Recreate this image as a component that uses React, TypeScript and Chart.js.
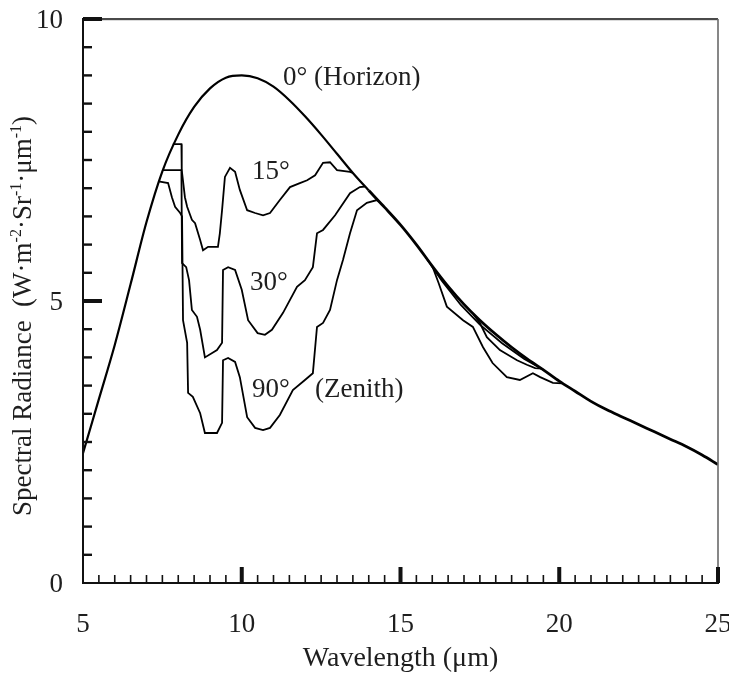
import React, { useEffect, useRef } from "react";
import { Chart, registerables } from "chart.js";

Chart.register(...registerables);

// ---- data (wavelength in µm, spectral radiance) ----
const horizonWl = [5.0, 5.5, 6.0, 6.5, 7.0, 7.5, 8.0, 8.5, 9.0, 9.5, 10.0, 10.5, 11.0, 11.5, 12.0, 12.5, 13.0, 13.5, 14.0, 14.5, 15.0, 15.5, 16.0, 16.5, 17.0, 17.5, 18.0, 18.5, 19.0, 19.5, 20.0, 20.5, 21.0, 21.5, 22.0, 22.5, 23.0, 23.5, 24.0, 24.5, 25.0];
const horizonRad = [2.3, 3.26, 4.22, 5.3, 6.4, 7.3, 7.95, 8.44, 8.77, 8.96, 9.0, 8.95, 8.8, 8.56, 8.27, 7.95, 7.61, 7.27, 6.96, 6.66, 6.35, 6.0, 5.62, 5.26, 4.94, 4.66, 4.41, 4.18, 3.97, 3.78, 3.58, 3.4, 3.22, 3.07, 2.94, 2.81, 2.68, 2.55, 2.42, 2.27, 2.1];

// 15° : atmospheric window part and long-wave part
const wl15 = [7.83, 8.1, 8.11, 8.21, 8.28, 8.43, 8.53, 8.69, 8.78, 8.94, 9.25, 9.31, 9.38, 9.47, 9.63, 9.79, 9.94, 10.17, 10.42, 10.67, 10.89, 11.2, 11.52, 11.83, 12.06, 12.31, 12.56, 12.78, 13.0, 13.41, 13.5];
const rad15 = [7.78, 7.78, 7.32, 6.84, 6.67, 6.44, 6.38, 6.08, 5.9, 5.96, 5.96, 6.2, 6.61, 7.2, 7.36, 7.29, 6.97, 6.61, 6.56, 6.52, 6.56, 6.79, 7.02, 7.09, 7.14, 7.23, 7.45, 7.46, 7.32, 7.29, 7.27];
const wl15Long = [15.8, 16.3, 16.9, 17.5, 18.2, 18.9, 19.5];
const rad15Long = [5.77, 5.36, 4.93, 4.58, 4.25, 3.97, 3.78];

// 30°
const wl30 = [7.52, 8.1, 8.12, 8.25, 8.34, 8.43, 8.59, 8.69, 8.84, 9.22, 9.38, 9.41, 9.57, 9.79, 10.0, 10.2, 10.5, 10.73, 10.95, 11.3, 11.74, 11.99, 12.24, 12.37, 12.56, 12.94, 13.41, 13.72, 13.88];
const rad30 = [7.32, 7.32, 5.67, 5.6, 5.37, 4.84, 4.72, 4.49, 4.0, 4.13, 4.26, 5.55, 5.6, 5.55, 5.2, 4.66, 4.43, 4.4, 4.49, 4.79, 5.25, 5.37, 5.6, 6.2, 6.26, 6.52, 6.91, 7.02, 7.03];
const wl30Long = [17.3, 17.5, 17.72, 18.13, 18.67, 18.98, 19.24, 19.45];
const rad30Long = [4.76, 4.61, 4.36, 4.13, 3.95, 3.87, 3.81, 3.8];

// 90° (Zenith)
const wl90 = [7.38, 7.68, 7.8, 7.9, 8.06, 8.12, 8.15, 8.28, 8.31, 8.46, 8.69, 8.84, 9.22, 9.38, 9.41, 9.57, 9.79, 9.94, 10.17, 10.42, 10.67, 10.89, 11.2, 11.61, 11.99, 12.24, 12.37, 12.56, 12.78, 13.0, 13.19, 13.41, 13.63, 13.94, 14.26, 14.35];
const rad90 = [7.12, 7.09, 6.84, 6.67, 6.56, 6.5, 4.66, 4.26, 3.37, 3.3, 3.01, 2.66, 2.66, 2.84, 3.95, 3.99, 3.92, 3.65, 2.94, 2.75, 2.71, 2.75, 2.98, 3.42, 3.6, 3.72, 4.54, 4.61, 4.84, 5.37, 5.73, 6.2, 6.61, 6.74, 6.79, 6.75];
const wl90Long = [16.0, 16.2, 16.46, 16.97, 17.28, 17.6, 17.9, 18.35, 18.76, 19.17, 19.4, 19.8, 20.1];
const rad90Long = [5.62, 5.32, 4.9, 4.66, 4.54, 4.18, 3.9, 3.65, 3.6, 3.72, 3.65, 3.55, 3.54];

const xTickLabels = [5, 10, 15, 20, 25];
const yTickLabels = [0, 5, 10];

const curveLabels = ["0° (Horizon)", "15°", "30°", "90°", "(Zenith)"];
const curveLabelWl = [11.3, 10.32, 10.26, 10.32, 12.31];
const curveLabelRad = [8.95, 7.29, 5.32, 3.42, 3.42];

const xTitle = "Wavelength (μm)";
// y title pieces: [text, isSuperscript]
const yTitleParts: [string, boolean][] = [
  ["Spectral Radiance  (W·m", false],
  ["-2", true],
  ["·Sr", false],
  ["-1", true],
  ["·μm", false],
  ["-1", true],
  [")", false],
];

const SERIF = '"Liberation Serif", "Times New Roman", serif';
const TEXT = "#1e1e1e";

function pts(wl: number[], rad: number[]) {
  return wl.map((x, i) => ({ x, y: rad[i] }));
}
function joined(a: { x: number; y: number | null }[], b: { x: number; y: number | null }[]) {
  const gapX = (a[a.length - 1].x + b[0].x) / 2;
  return [...a, { x: gapX, y: null }, ...b];
}

const framePlugin = {
  id: "frameTicks",
  afterDraw(chart: any) {
    const { ctx, chartArea: a, scales } = chart;
    const xs = scales.x;
    const ys = scales.y;
    ctx.save();
    // frame
    ctx.fillStyle = "#4a4a4a";
    ctx.fillRect(a.left, a.top - 1, a.right - a.left, 2.2);
    ctx.fillStyle = "#6a6a6a";
    ctx.fillRect(a.right - 0.8, a.top, 1.6, a.bottom - a.top);
    ctx.fillStyle = "#111";
    ctx.fillRect(a.left - 1, a.top - 1, 2, a.bottom - a.top + 2);
    ctx.fillRect(a.left - 1, a.bottom - 1, a.right - a.left + 2, 2);

    // y ticks (inside)
    for (let k = 1; k <= 20; k++) {
      const v = k / 2;
      const py = ys.getPixelForValue(v);
      if (v % 5 === 0) ctx.fillRect(a.left, py - 2, 19, 4);
      else ctx.fillRect(a.left, py - 1.2, 9, 2.4);
    }
    // x ticks (inside)
    for (let k = 11; k <= 50; k++) {
      const v = k / 2;
      const px = xs.getPixelForValue(v);
      if (v % 5 === 0) ctx.fillRect(px - 2, a.bottom - 16, 4, 16);
      else ctx.fillRect(px - 0.8, a.bottom - 8, 1.6, 8);
    }

    // curve labels
    ctx.fillStyle = TEXT;
    ctx.font = `27px ${SERIF}`;
    ctx.textAlign = "left";
    ctx.textBaseline = "middle";
    curveLabels.forEach((t, i) => {
      ctx.fillText(t, xs.getPixelForValue(curveLabelWl[i]), ys.getPixelForValue(curveLabelRad[i]));
    });

    // y title (rotated, with superscripts)
    const big = `27px ${SERIF}`;
    const small = `16px ${SERIF}`;
    let total = 0;
    yTitleParts.forEach(([t, sup]) => {
      ctx.font = sup ? small : big;
      total += ctx.measureText(t).width;
    });
    ctx.translate(31, 316);
    ctx.rotate(-Math.PI / 2);
    ctx.textBaseline = "alphabetic";
    let cx = -total / 2;
    yTitleParts.forEach(([t, sup]) => {
      ctx.font = sup ? small : big;
      ctx.fillText(t, cx, sup ? -10 : 0);
      cx += ctx.measureText(t).width;
    });
    ctx.restore();
  },
};

export default function App() {
  const ref = useRef<HTMLCanvasElement>(null);
  useEffect(() => {
    const canvas = ref.current;
    if (!canvas) return;
    const line = (data: any[], width: number, smooth: boolean) => ({
      data,
      borderColor: "#000",
      borderWidth: width,
      pointRadius: 0,
      fill: false,
      spanGaps: false,
      tension: smooth ? 0.4 : 0,
      cubicInterpolationMode: smooth ? ("monotone" as const) : ("default" as const),
    });
    const chart = new Chart(canvas, {
      type: "line",
      data: {
        datasets: [
          {
            label: "0° (Horizon)",
            ...line(pts(horizonWl, horizonRad), 2.2, true),
            segment: {
              borderWidth: (c: any) => (c.p0.parsed.x >= 14 ? 2.8 : 2.2),
            },
          },
          { label: "15°", ...line(joined(pts(wl15, rad15), pts(wl15Long, rad15Long)), 1.8, false) },
          { label: "30°", ...line(joined(pts(wl30, rad30), pts(wl30Long, rad30Long)), 1.8, false) },
          { label: "90° (Zenith)", ...line(joined(pts(wl90, rad90), pts(wl90Long, rad90Long)), 1.8, false) },
        ],
      },
      options: {
        animation: false,
        responsive: false,
        devicePixelRatio: 1,
        layout: { padding: { top: 19, right: 11, left: 0, bottom: 0 } },
        plugins: { legend: { display: false }, tooltip: { enabled: false } },
        elements: { point: { radius: 0 } },
        scales: {
          x: {
            type: "linear",
            min: 5,
            max: 25,
            border: { display: false },
            grid: { display: false, drawTicks: false },
            afterBuildTicks: (s: any) => {
              s.ticks = xTickLabels.map((v) => ({ value: v }));
            },
            ticks: {
              padding: 26,
              color: TEXT,
              maxRotation: 0,
              autoSkip: false,
              font: { family: SERIF, size: 27 },
              callback: (v: any) => String(v),
            },
            title: {
              display: true,
              text: xTitle,
              color: TEXT,
              font: { family: SERIF, size: 28 },
              padding: { top: 0, bottom: 0 },
            },
            afterFit: (s: any) => {
              s.height = 92;
              s.paddingLeft = 0;
              s.paddingRight = 0;
            },
          },
          y: {
            type: "linear",
            min: 0,
            max: 10,
            border: { display: false },
            grid: { display: false, drawTicks: false },
            afterBuildTicks: (s: any) => {
              s.ticks = yTickLabels.map((v) => ({ value: v }));
            },
            ticks: {
              padding: 20,
              color: TEXT,
              autoSkip: false,
              labelOffset: 2,
              font: { family: SERIF, size: 27 },
              callback: (v: any) => String(v),
            },
            afterFit: (s: any) => {
              s.width = 83;
              s.paddingTop = 0;
              s.paddingBottom = 0;
            },
          },
        },
      },
      plugins: [framePlugin],
    });
    return () => chart.destroy();
  }, []);
  return (
    <div style={{ position: "fixed", left: 0, top: 0, width: 729, height: 675, background: "#fff" }}>
      <canvas ref={ref} width={729} height={675} style={{ width: 729, height: 675, display: "block" }} />
    </div>
  );
}
